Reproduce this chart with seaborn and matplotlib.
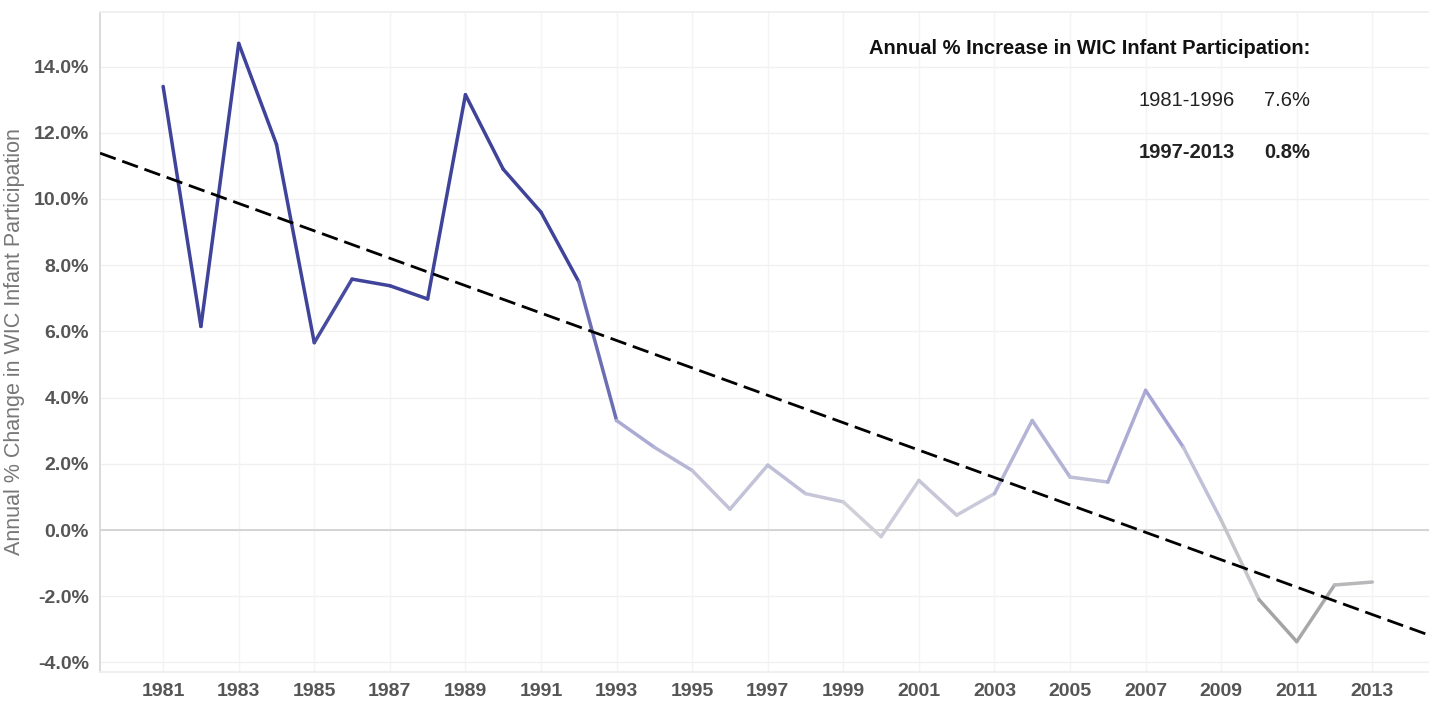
"""
WIC infant participation: annual % change with linear trend
"""

import numpy as np
import pandas as pd
import matplotlib.pyplot as plt
import seaborn as sns
from matplotlib.collections import LineCollection
from matplotlib.colors import LinearSegmentedColormap, TwoSlopeNorm

# Data
years = list(range(1981, 2014))
pct_change = [13.4, 6.15, 14.7, 11.65, 5.66, 7.58, 7.38, 6.98, 13.15, 10.9,
              9.6, 7.5, 3.31, 2.5, 1.8, 0.63, 1.96, 1.1, 0.85, -0.2,
              1.5, 0.45, 1.1, 3.31, 1.6, 1.45, 4.22, 2.5, 0.3, -2.1,
              -3.37, -1.66, -1.57]
year_ticks = list(range(1981, 2014, 2))
pct_ticks = list(range(-4, 15, 2))
summary_periods = ['1981-1996', '1997-2013']
summary_values = ['7.6%', '0.8%']

df = pd.DataFrame({'year': years, 'pct': pct_change})

sns.set_theme(style='white')
plt.rcParams['font.family'] = ['Liberation Sans', 'DejaVu Sans']

fig = plt.figure(figsize=(14.29, 7.03), dpi=100)
ax = fig.add_axes([0.07, 0.044, 0.93, 0.939])

xlim = (1979.33, 2014.5)
ylim = (-4.29, 15.65)
ax.set_xlim(*xlim)
ax.set_ylim(*ylim)

# faint grid
for yv in pct_ticks:
    ax.axhline(yv, color='#f0f0f0', lw=1, zorder=0)
for xv in year_ticks:
    ax.axvline(xv, color='#f4f4f4', lw=1, zorder=0)
ax.axhline(0, color='#cfcfcf', lw=1.2, zorder=1)

# trend line (linear fit over the whole axis width)
sns.regplot(data=df, x='year', y='pct', ax=ax, scatter=False, ci=None,
            truncate=False,
            line_kws=dict(color='black', linestyle=(0, (6, 2.5)), linewidth=2.0, zorder=3))
ax.set_xlim(*xlim)
ax.set_ylim(*ylim)

# value-coloured line: grey for negative, light at zero, blue when high
cmap = LinearSegmentedColormap.from_list(
    'greyblue', [(0.0, '#8e8e8e'), (0.5, '#d4d4da'), (0.75, '#a3a2d4'), (1.0, '#3f4399')])
norm = TwoSlopeNorm(vmin=-4, vcenter=0, vmax=7)
pts = np.column_stack([df['year'], df['pct']])
segs = np.stack([pts[:-1], pts[1:]], axis=1)
seg_vals = np.clip((df['pct'].values[:-1] + df['pct'].values[1:]) / 2, -4, 7)
lc = LineCollection(segs, cmap=cmap, norm=norm, linewidths=2.5, zorder=2,
                    capstyle='round', joinstyle='round')
lc.set_array(seg_vals)
ax.add_collection(lc)

ax.set_xticks(year_ticks)
ax.set_xticklabels([str(y) for y in year_ticks], fontsize=14, fontweight='bold', color='#555555')
ax.set_yticks(pct_ticks)
ax.set_yticklabels([f'{v:.1f}%' for v in pct_ticks], fontsize=14, fontweight='bold', color='#555555')
ax.tick_params(axis='both', length=0, pad=8)
ax.set_xlabel('')
ax.set_ylabel('Annual % Change in WIC Infant Participation', fontsize=15.5, color='#777777', labelpad=6)

ax.spines['right'].set_visible(False)
ax.spines['left'].set_color('#d6d6d6')
ax.spines['bottom'].set_color('#eeeeee')
ax.spines['top'].set_color('#eeeeee')

# summary box
fig.text(1310 / 1429, 1 - 48 / 703, 'Annual % Increase in WIC Infant Participation:',
         ha='right', va='center', fontsize=14.5, fontweight='bold', color='#111111')
weights = ['normal', 'bold']
for i, (per, val) in enumerate(zip(summary_periods, summary_values)):
    yy = 1 - (100 + 52 * i) / 703
    fig.text(1235 / 1429, yy, per, ha='right', va='center', fontsize=14.5,
             fontweight=weights[i], color='#222222')
    fig.text(1310 / 1429, yy, val, ha='right', va='center', fontsize=14.5,
             fontweight=weights[i], color='#222222')

plt.savefig('out.png', dpi=100, facecolor='white')
